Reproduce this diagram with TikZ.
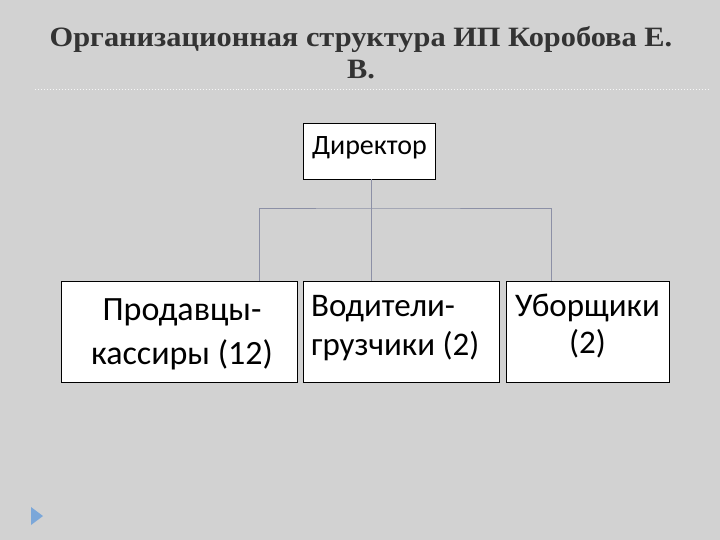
\documentclass[tikz,border=0pt]{standalone}
\usepackage{fontspec}
\setmainfont{Carlito}
\newfontfamily\titlefont{Liberation Serif}
\definecolor{bgc}{HTML}{D2D2D2}
\definecolor{linec}{HTML}{8C90A6}
\definecolor{titlec}{HTML}{333333}
\definecolor{bulletc}{HTML}{7BA7D9}
\tikzset{
  box/.style={draw=black, line width=0.8bp, fill=white, inner sep=0pt},
  conn/.style={draw=linec, line width=0.9bp},
  boxtext/.style={inner sep=0pt, text=black, anchor=base},
  titletext/.style={inner sep=0pt, text=titlec, anchor=base, font=\titlefont\bfseries\fontsize{28bp}{32bp}\selectfont},
}
\begin{document}
\begin{tikzpicture}[x=1bp,y=-1bp]
\fill[bgc] (0,0) rectangle (720,540);
\useasboundingbox (0,0) rectangle (720,540);
% title
\node[titletext] (title1) at (361,46.5) {\scalebox{1.085}[1]{Организационная структура ИП Коробова Е.}};
\node[titletext] (title2) at (361,78.5) {\scalebox{1.085}[1]{В.}};
\draw[white!85!bgc, line width=1bp, dotted] (35,90) -- (710,90);
% boxes
\node[box, minimum width=132bp, minimum height=56bp] (dir) at (369,151) {};
\node[boxtext, font=\fontsize{28bp}{32bp}\selectfont] (dirt) at (369.5,155) {Директор};
\node[box, minimum width=236bp, minimum height=101bp] (prod) at (179,331.5) {};
\node[boxtext, align=center, font=\fontsize{34bp}{44bp}\selectfont] (prodt) at (182,364) {Продавцы-\\кассиры (12)};
\node[box, minimum width=196bp, minimum height=101bp] (vod) at (401,331.5) {};
\node[boxtext, align=left, anchor=base west, font=\fontsize{33bp}{38.5bp}\selectfont] (vodt) at (311,355) {Водители-\\грузчики (2)};
\node[box, minimum width=163bp, minimum height=101bp] (ubo) at (587.5,331.5) {};
\node[boxtext, align=center, font=\fontsize{33bp}{37bp}\selectfont] (ubot) at (587.5,353.5) {Уборщики\\(2)};
% connectors
\coordinate (bus) at (371,208);
\draw[conn] (dir.south -| bus) -- (vod.north -| bus);
\draw[conn] (prod.north -| 259,0) |- (bus) -| (ubo.north -| 551,0);
% bullet
\fill[bulletc] (31,507) -- (43,516) -- (31,525) -- cycle;
\end{tikzpicture}
\end{document}
